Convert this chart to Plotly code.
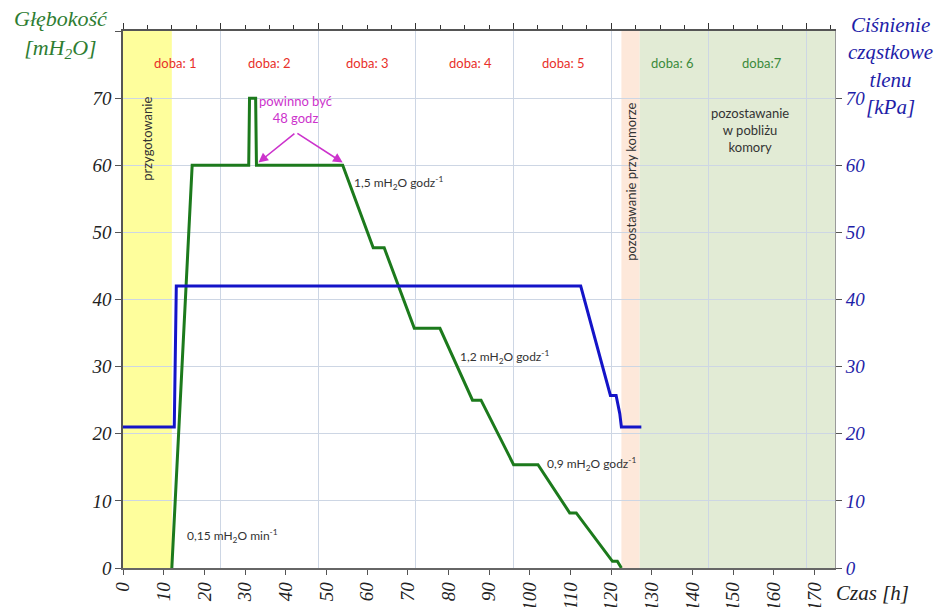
import plotly.graph_objects as go

# ---- data ----
depth_t = [12, 17, 30.9, 31.1, 32.6, 32.8, 54, 61.5, 64.2, 71.6, 77.9, 85.9, 88, 96, 102, 109.8, 111.4, 120.3, 121.5, 122.5]
depth_v = [0, 60, 60, 70, 70, 60, 60, 47.7, 47.7, 35.7, 35.7, 25, 25, 15.4, 15.4, 8.2, 8.2, 1, 1, 0]

o2_t = [0, 12.6, 13.1, 112.5, 119.8, 121.2, 122.1, 122.5, 127.4]
o2_v = [21, 21, 42, 42, 25.7, 25.7, 23, 21, 21]

x_ticks = list(range(0, 171, 10))
y_ticks = list(range(0, 71, 10))

phase_start = [0, 122.5, 127]
phase_end = [12, 127, 175]
phase_color = ["#FEFE9C", "#FDE8DA", "#E2EBD5"]

day_labels = ["doba: 1", "doba: 2", "doba: 3", "doba: 4", "doba: 5", "doba: 6", "doba:7"]
day_x = [12.8, 36, 60, 85.5, 108.3, 135, 157]
day_color = ["#E8302A"] * 5 + ["#3A8A3A"] * 2

rate_labels = ["0,15 mH<sub>2</sub>O min<sup>-1</sup>", "1,5 mH<sub>2</sub>O godz<sup>-1</sup>",
               "1,2 mH<sub>2</sub>O godz<sup>-1</sup>", "0,9 mH<sub>2</sub>O godz<sup>-1</sup>"]
rate_x = [15.2, 56.3, 82.3, 103.6]
rate_y = [4.8, 57.3, 31.5, 15.5]

GREEN = "#1C7A1C"
BLUE = "#1414C8"
SERIF = "Liberation Serif"
SANS = "Lato"

fig = go.Figure()

fig.add_trace(go.Scatter(x=depth_t, y=depth_v, mode="lines",
                         line=dict(color=GREEN, width=3), showlegend=False, hoverinfo="skip"))
fig.add_trace(go.Scatter(x=o2_t, y=o2_v, mode="lines", yaxis="y2",
                         line=dict(color=BLUE, width=3), showlegend=False, hoverinfo="skip"))

for s, e, c in zip(phase_start, phase_end, phase_color):
    fig.add_shape(type="rect", xref="x", yref="paper", x0=s, x1=e, y0=0, y1=1,
                  fillcolor=c, line=dict(width=0), layer="below")

ann = []
for t, xx, c in zip(day_labels, day_x, day_color):
    ann.append(dict(x=xx, y=75.3, xref="x", yref="y", text=t, showarrow=False,
                    font=dict(family=SANS, size=13, color=c)))
for t, xx, yy in zip(rate_labels, rate_x, rate_y):
    ann.append(dict(x=xx, y=yy, xref="x", yref="y", text=t, showarrow=False, xanchor="left",
                    font=dict(family=SANS, size=12, color="#333333")))

ann.append(dict(x=6, y=64, xref="x", yref="y", text="przygotowanie", textangle=-90,
                showarrow=False, font=dict(family=SANS, size=13, color="#333333")))
ann.append(dict(x=124.8, y=57.5, xref="x", yref="y", text="pozostawanie przy komorze", textangle=-90,
                showarrow=False, font=dict(family=SANS, size=13, color="#333333")))
ann.append(dict(x=154, y=65.2, xref="x", yref="y", text="pozostawanie<br>w pobliżu<br>komory",
                showarrow=False, font=dict(family=SANS, size=13, color="#333333")))
ann.append(dict(x=42.5, y=68.3, xref="x", yref="y", text="powinno być<br>48 godz",
                showarrow=False, font=dict(family=SANS, size=13, color="#CC33CC")))
for hx, hy in [(33.3, 60.4), (54, 60.4)]:
    ann.append(dict(x=hx, y=hy, ax=42.5, ay=64.9, xref="x", yref="y", axref="x", ayref="y",
                    text="", showarrow=True, arrowhead=2, arrowsize=1.2, arrowwidth=1.6,
                    arrowcolor="#CC33CC"))

ann.append(dict(x=0, y=1, xref="paper", yref="paper", xanchor="center", yanchor="bottom",
                text="Głębokość<br>[mH<sub>2</sub>O]", showarrow=False, xshift=-62, yshift=-33,
                font=dict(family=SERIF, size=22, color="#2E7D32", style="italic")))
ann.append(dict(x=1, y=1, xref="paper", yref="paper", xanchor="center", yanchor="top",
                text="Ciśnienie<br>cząstkowe<br>tlenu<br>[kPa]", showarrow=False, xshift=55, yshift=20,
                font=dict(family=SERIF, size=21, color="#1E1EA8", style="italic")))
ann.append(dict(x=1, y=0, xref="paper", yref="paper", xanchor="center", yanchor="middle",
                text="Czas [h]", showarrow=False, xshift=37, yshift=-25,
                font=dict(family=SERIF, size=21, color="#222222", style="italic")))

fig.update_layout(
    width=938, height=599,
    margin=dict(l=115, r=111, t=23, b=39, autoexpand=False),
    plot_bgcolor="white", paper_bgcolor="white",
    annotations=ann,
    xaxis=dict(range=[0, 175], tickvals=x_ticks, tickangle=-90, showgrid=False, zeroline=False,
               ticks="outside", ticklen=5, tickcolor="#555555", showline=True, linecolor="#666666",
               linewidth=1.5, automargin=False,
               tickfont=dict(family=SERIF, size=19, color="#222222", style="italic")),
    xaxis2=dict(range=[0, 175], overlaying="x", side="top", dtick=24, tick0=0, showticklabels=False,
                ticks="outside", ticklen=6, tickcolor="#333333", showgrid=True, gridcolor="#CDD6E4",
                gridwidth=1, zeroline=False, showline=True, linecolor="#555555", linewidth=1.5,
                minor=dict(dtick=6, ticks="outside", ticklen=4, tickcolor="#333333", showgrid=False)),
    yaxis=dict(range=[0, 80], tickvals=y_ticks + [80], ticktext=[str(v) for v in y_ticks] + [""],
               showgrid=True, gridcolor="#CDD6E4", zeroline=False,
               ticks="outside", ticklen=6, tickcolor="#555555", showline=True, linecolor="#555555",
               linewidth=1.5, automargin=False,
               tickfont=dict(family=SERIF, size=19, color="#222222", style="italic")),
    yaxis2=dict(range=[0, 80], overlaying="y", side="right", tickvals=y_ticks, showgrid=False,
                zeroline=False, ticks="outside", ticklen=6, tickcolor="#555555", showline=True,
                linecolor="#9A9A9A", linewidth=1, automargin=False,
                tickfont=dict(family=SERIF, size=19, color="#1E1EA8", style="italic")),
)

# dummy trace to activate top axis
fig.add_trace(go.Scatter(x=[0], y=[None], xaxis="x2", mode="lines", showlegend=False, hoverinfo="skip"))

fig.write_html("out.html")
